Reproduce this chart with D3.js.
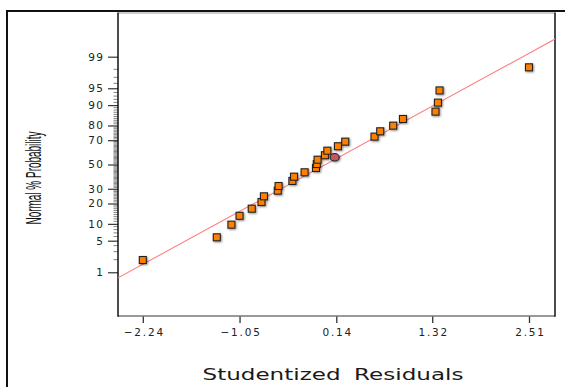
<!DOCTYPE html>
<html><head><meta charset="utf-8">
<script src="https://cdn.jsdelivr.net/npm/d3@7"></script>
<style>html,body{margin:0;padding:0;background:#fff;}svg{display:block;}</style>
</head><body>
<svg id="c" width="565" height="387"></svg>
<script>
// Studentized residuals (x) and normal % probability (y)
const residuals = [-2.24,-1.33,-1.15,-1.05,-0.90,-0.78,-0.75,-0.58,-0.57,-0.40,-0.38,-0.25,-0.11,-0.10,-0.09,0.00,0.03,0.16,0.25,0.61,0.68,0.84,0.96,1.36,1.39,1.41,2.51];
const probabilities = [1.96,5.8,9.7,13.4,17.0,20.9,24.6,28.6,32.1,36.1,39.6,43.3,47.0,50.4,54.1,57.9,61.7,65.3,68.9,72.6,76.3,79.9,83.7,87.3,90.9,94.5,98.2];
// highlighted run (circle)
const highlightResidual = [0.12];
const highlightProbability = [56.2];
// fitted reference line end points (residual, % probability)
const lineResiduals = [-2.545, 2.83];
const lineProbabilities = [0.72, 99.66];
const xTickValues = [-2.24,-1.05,0.14,1.32,2.51];
const yTickLabels = [1,5,10,20,30,50,70,80,90,95,99];
const yMinorTicks = [2,3,4,6,7,8,9,11,12,13,14,15,16,17,18,19,21,22,23,24,25,26,27,28,29,31,32,33,34,35,36,37,38,39,40,41,42,43,44,45,46,47,48,49,51,52,53,54,55,56,57,58,59,60,61,62,63,64,65,66,67,68,69,71,72,73,74,75,76,77,78,79,81,82,83,84,85,86,87,88,89,91,92,93,94,96,97,98];

// inverse normal CDF (Acklam)
function probit(p){
  const a=[-3.969683028665376e+01,2.209460984245205e+02,-2.759285104469687e+02,1.383577518672690e+02,-3.066479806614716e+01,2.506628277459239e+00];
  const b=[-5.447609879822406e+01,1.615858368580409e+02,-1.556989798598866e+02,6.680131188771972e+01,-1.328068155288572e+01];
  const c=[-7.784894002430293e-03,-3.223964580411365e-01,-2.400758277161838e+00,-2.549732539343734e+00,4.374664141464968e+00,2.938163982698783e+00];
  const d=[7.784695709041462e-03,3.224671290700398e-01,2.445134137142996e+00,3.754408661907416e+00];
  const pl=0.02425;let q,r;
  if(p<pl){q=Math.sqrt(-2*Math.log(p));return (((((c[0]*q+c[1])*q+c[2])*q+c[3])*q+c[4])*q+c[5])/((((d[0]*q+d[1])*q+d[2])*q+d[3])*q+1);}
  if(p>1-pl){q=Math.sqrt(-2*Math.log(1-p));return -(((((c[0]*q+c[1])*q+c[2])*q+c[3])*q+c[4])*q+c[5])/((((d[0]*q+d[1])*q+d[2])*q+d[3])*q+1);}
  q=p-0.5;r=q*q;return (((((a[0]*r+a[1])*r+a[2])*r+a[3])*r+a[4])*r+a[5])*q/(((((b[0]*r+b[1])*r+b[2])*r+b[3])*r+b[4])*r+1);
}

const svg = d3.select("#c");
const L=118, R=555, T=12.5, B=316;
const x = d3.scaleLinear().domain([-2.545, 2.83]).range([L, R]);
const yz = d3.scaleLinear().domain([-3.27, 3.28]).range([B, T]);
const y = p => yz(probit(p/100));

// outer frame (only left and top visible)
svg.append("rect").attr("x",7).attr("y",11).attr("width",600).attr("height",400)
  .attr("fill","none").attr("stroke","#111").attr("stroke-width",2);
svg.append("line").attr("x1",L).attr("x2",R).attr("y1",13).attr("y2",13).attr("stroke","#bbb").attr("stroke-width",1.5);

const defs = svg.append("defs");
defs.append("clipPath").attr("id","clip").append("rect").attr("x",L).attr("y",T).attr("width",R-L).attr("height",B-T);
const f = defs.append("filter").attr("id","sh").attr("x","-50%").attr("y","-50%").attr("width","200%").attr("height","200%");
f.append("feGaussianBlur").attr("in","SourceAlpha").attr("stdDeviation",0.9).attr("result","b");
f.append("feOffset").attr("in","b").attr("dx",0.5).attr("dy",0.5).attr("result","o");
f.append("feComponentTransfer").attr("in","o").attr("result","o2").append("feFuncA").attr("type","linear").attr("slope",0.45);
const m = f.append("feMerge"); m.append("feMergeNode").attr("in","o2"); m.append("feMergeNode").attr("in","SourceGraphic");

// y minor ticks
svg.append("g").selectAll("line").data(yMinorTicks).join("line")
  .attr("x1",L-4.5).attr("x2",L).attr("y1",d=>y(d)).attr("y2",d=>y(d))
  .attr("stroke","#777").attr("stroke-width",0.9);

// y axis (probability scale)
const yAxis = d3.axisLeft(yz).tickValues(yTickLabels.map(p=>probit(p/100))).tickSize(10).tickPadding(5)
  .tickFormat((d,i)=>yTickLabels[i]);
const gy = svg.append("g").attr("transform",`translate(${L},0)`).call(yAxis);
gy.select(".domain").remove();
gy.selectAll(".tick line").attr("stroke","#333").attr("stroke-width",1.2);
gy.selectAll(".tick text").attr("fill","#222").attr("font-family","DejaVu Sans").attr("font-size",10.5).attr("letter-spacing","1.3px").attr("dx","1.3");

// x axis
const xAxis = d3.axisBottom(x).tickValues(xTickValues).tickSize(7).tickPadding(6).tickFormat(d3.format(".2f"));
const gx = svg.append("g").attr("transform",`translate(0,${B})`).call(xAxis);
gx.select(".domain").remove();
gx.selectAll(".tick line").attr("stroke","#333").attr("stroke-width",1.3);
gx.selectAll(".tick text").attr("fill","#222").attr("font-family","DejaVu Sans").attr("font-size",10.5).attr("letter-spacing","1.8px").attr("dx","1");

// plot box
svg.append("line").attr("x1",L).attr("x2",R).attr("y1",B).attr("y2",B).attr("stroke","#777").attr("stroke-width",1.5);
svg.append("line").attr("x1",L).attr("x2",L).attr("y1",T).attr("y2",B+0.75).attr("stroke","#111").attr("stroke-width",1.5);
svg.append("line").attr("x1",R).attr("x2",R).attr("y1",T).attr("y2",B+0.75).attr("stroke","#111").attr("stroke-width",1.5);

// fitted line
svg.append("line").attr("clip-path","url(#clip)")
  .attr("x1",x(lineResiduals[0])).attr("y1",y(lineProbabilities[0]))
  .attr("x2",x(lineResiduals[1])).attr("y2",y(lineProbabilities[1]))
  .attr("stroke","#ff8080").attr("stroke-width",1.1);

// points
const pts = residuals.map((r,i)=>({r, p:probabilities[i]}));
svg.append("g").attr("filter","url(#sh)").selectAll("rect").data(pts).join("rect")
  .attr("x",d=>x(d.r)-3.5).attr("y",d=>y(d.p)-3.5).attr("width",7).attr("height",7)
  .attr("fill","#ff8000").attr("stroke","#222").attr("stroke-width",1.1);
svg.append("g").attr("filter","url(#sh)").selectAll("ellipse").data(highlightResidual).join("ellipse")
  .attr("cx",d=>x(d)).attr("cy",(d,i)=>y(highlightProbability[i])).attr("rx",4.6).attr("ry",3.8)
  .attr("fill","#c0585f").attr("stroke","#222").attr("stroke-width",1.1);

// titles
svg.append("text").attr("x",333).attr("y",380).attr("text-anchor","middle")
  .attr("font-family","DejaVu Sans").attr("font-size",15).attr("fill","#1a1a1a")
  .attr("textLength",261).attr("lengthAdjust","spacingAndGlyphs").attr("word-spacing","4px").text("Studentized Residuals");
svg.append("text").attr("transform","translate(41,178) rotate(-90)").attr("text-anchor","middle")
  .attr("font-family","Liberation Sans").attr("font-size",22).attr("fill","#111")
  .attr("textLength",93).attr("lengthAdjust","spacingAndGlyphs").text("Normal % Probability");
</script>
</body></html>
